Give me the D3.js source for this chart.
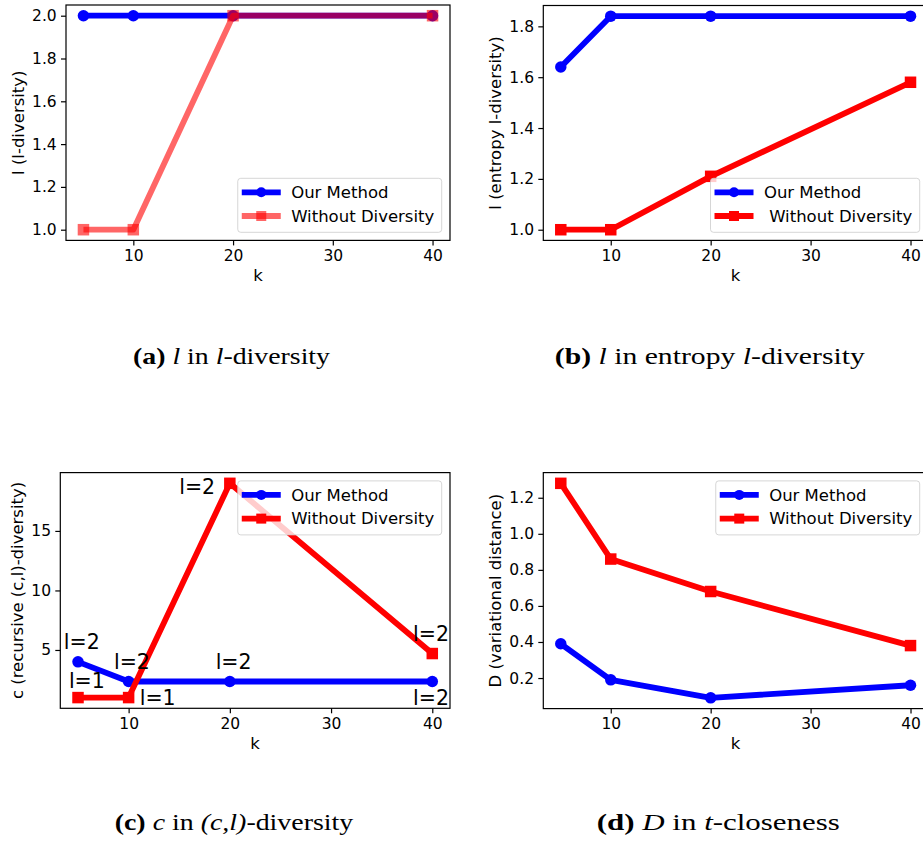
<!DOCTYPE html>
<html>
<head>
<meta charset="utf-8">
<script src="https://cdn.jsdelivr.net/npm/d3@7"></script>
<style>
  body { margin: 0; background: #fff; }
  svg { display: block; }
</style>
</head>
<body>
<div id="chart"></div>
<script>
// k values on the x axis (shared by all four panels)
const kValues = [5, 10, 20, 40];
const xTicks = [10, 20, 30, 40];
const seriesNames = ["Our Method", "Without Diversity"];

// (a) l in l-diversity
const ldivOurs = [2.0, 2.0, 2.0, 2.0];
const ldivWithout = [1.0, 1.0, 2.0, 2.0];
const ldivTicks = [1.0, 1.2, 1.4, 1.6, 1.8, 2.0];

// (b) l in entropy l-diversity
const entropyOurs = [1.64, 1.84, 1.84, 1.84];
const entropyWithout = [1.0, 1.0, 1.21, 1.58];
const entropyTicks = [1.0, 1.2, 1.4, 1.6, 1.8];

// (c) c in recursive (c,l)-diversity
const recursiveOurs = [4.0, 2.35, 2.35, 2.35];
const recursiveWithout = [1.0, 1.0, 19.0, 4.7];
const recursiveTicks = [5, 10, 15];
// text notes written in data coordinates (k, c)
const recursiveNotes = [
  { text: "l=2", k: 3.6, v: 5.1 },
  { text: "l=1", k: 4.1, v: 1.8 },
  { text: "l=2", k: 8.55, v: 3.4 },
  { text: "l=1", k: 11.1, v: 0.38 },
  { text: "l=2", k: 15.0, v: 18.1 },
  { text: "l=2", k: 18.6, v: 3.4 },
  { text: "l=2", k: 38.1, v: 5.76 },
  { text: "l=2", k: 38.1, v: 0.38 }
];

// (d) D in t-closeness
const closenessOurs = [0.39, 0.19, 0.09, 0.16];
const closenessWithout = [1.28, 0.86, 0.68, 0.38];
const closenessTicks = [0.2, 0.4, 0.6, 0.8, 1.0, 1.2];

const yLabels = ["l (l-diversity)", "l (entropy l-diversity)", "c (recursive (c,l)-diversity)", "D (variational distance)"];

// captions: [text, style] pieces
const captions = [
  [["(a)", "b"], [" ", "n"], ["l", "i"], [" in ", "n"], ["l", "i"], ["-diversity", "n"]],
  [["(b)", "b"], [" ", "n"], ["l", "i"], [" in entropy ", "n"], ["l", "i"], ["-diversity", "n"]],
  [["(c)", "b"], [" ", "n"], ["c", "i"], [" in ", "n"], ["(c,l)", "i"], ["-diversity", "n"]],
  [["(d)", "b"], [" ", "n"], ["D", "i"], [" in ", "n"], ["t", "i"], ["-closeness", "n"]]
];

const width = 923, height = 852;
const blue = "#0000ff", red = "#ff0000";
const lineW = 5.8, markerSize = 11.5;

const svg = d3.select("#chart").append("svg")
  .attr("width", width)
  .attr("height", height)
  .attr("viewBox", [0, 0, width, height]);

const panels = [
  { ours: ldivOurs, without: ldivWithout, ticks: ldivTicks, fmt: ".1f",
    box: { left: 66, top: 5, right: 450, bottom: 240.4 }, legend: "lower", fade: 0.6, lead: "",
    caption: { cx: 231.5, y: 364.3, w: 197 } },
  { ours: entropyOurs, without: entropyWithout, ticks: entropyTicks, fmt: ".1f",
    box: { left: 543.3, top: 5.5, right: 928, bottom: 240.4 }, legend: "lower", fade: 1, lead: " ",
    caption: { cx: 709.8, y: 364.3, w: 310 } },
  { ours: recursiveOurs, without: recursiveWithout, ticks: recursiveTicks, fmt: "d",
    box: { left: 60.3, top: 472.6, right: 450, bottom: 708.3 }, legend: "upper", fade: 1, lead: "",
    notes: recursiveNotes, caption: { cx: 234, y: 830, w: 238.7 } },
  { ours: closenessOurs, without: closenessWithout, ticks: closenessTicks, fmt: ".1f",
    box: { left: 543.3, top: 472.6, right: 928, bottom: 708.6 }, legend: "upper", fade: 1, lead: "",
    caption: { cx: 718.3, y: 830, w: 243.3 } }
];

panels.forEach((p, i) => drawPanel(p, i));

function drawPanel(p, i) {
  const b = p.box;
  const g = svg.append("g");

  // matplotlib style 5% margins
  const kExt = d3.extent(kValues);
  const kPad = (kExt[1] - kExt[0]) * 0.05;
  const x = d3.scaleLinear().domain([kExt[0] - kPad, kExt[1] + kPad]).range([b.left, b.right]);
  const vExt = d3.extent(p.ours.concat(p.without));
  const vPad = (vExt[1] - vExt[0]) * 0.05;
  const y = d3.scaleLinear().domain([vExt[0] - vPad, vExt[1] + vPad]).range([b.bottom, b.top]);

  const xAxis = d3.axisBottom(x).tickValues(xTicks).tickSize(5).tickPadding(4.6).tickSizeOuter(0);
  const yAxis = d3.axisLeft(y).tickValues(p.ticks).tickFormat(d3.format(p.fmt)).tickSize(5).tickPadding(4.3).tickSizeOuter(0);

  const gx = g.append("g").attr("transform", "translate(0," + b.bottom + ")").call(xAxis);
  const gy = g.append("g").attr("transform", "translate(" + b.left + ",0)").call(yAxis);
  [gx, gy].forEach(a => {
    a.select(".domain").remove();
    a.selectAll("line").attr("stroke", "#000").attr("stroke-width", 1.2);
    a.selectAll("text").attr("fill", "#000")
      .style("font-family", "'DejaVu Sans', sans-serif").style("font-size", "15.5px");
  });

  // frame
  g.append("rect")
    .attr("x", b.left).attr("y", b.top)
    .attr("width", b.right - b.left).attr("height", b.bottom - b.top)
    .attr("fill", "none").attr("stroke", "#000").attr("stroke-width", 1.2);

  // axis labels
  const tickLeft = gy.node().getBBox().x + b.left;
  g.append("text")
    .attr("transform", "translate(" + (tickLeft - 8.3) + "," + ((b.top + b.bottom) / 2) + ") rotate(-90)")
    .attr("text-anchor", "middle")
    .style("font-family", "'DejaVu Sans', sans-serif").style("font-size", "16.5px")
    .text(yLabels[i]);
  g.append("text")
    .attr("x", (b.left + b.right) / 2).attr("y", b.bottom + 40.8)
    .attr("text-anchor", "middle")
    .style("font-family", "'DejaVu Sans', sans-serif").style("font-size", "16.5px")
    .text("k");

  // series
  const line = d3.line().x(d => x(d[0])).y(d => y(d[1]));
  const ours = kValues.map((k, j) => [k, p.ours[j]]);
  const without = kValues.map((k, j) => [k, p.without[j]]);

  g.append("path").datum(ours)
    .attr("d", line).attr("fill", "none").attr("stroke", blue)
    .attr("stroke-width", lineW).attr("stroke-linejoin", "round");
  g.selectAll(".dot").data(ours).join("circle")
    .attr("cx", d => x(d[0])).attr("cy", d => y(d[1]))
    .attr("r", markerSize / 2).attr("fill", blue);

  g.append("path").datum(without)
    .attr("d", line).attr("fill", "none").attr("stroke", red).attr("stroke-opacity", p.fade)
    .attr("stroke-width", lineW).attr("stroke-linejoin", "round");
  g.selectAll(".sq").data(without).join("rect")
    .attr("x", d => x(d[0]) - markerSize / 2).attr("y", d => y(d[1]) - markerSize / 2)
    .attr("width", markerSize).attr("height", markerSize)
    .attr("fill", red).attr("fill-opacity", p.fade);

  // notes on panel (c)
  if (p.notes) {
    g.selectAll(".note").data(p.notes).join("text")
      .attr("x", d => x(d.k)).attr("y", d => y(d.v))
      .style("font-family", "'DejaVu Sans', sans-serif").style("font-size", "20.5px")
      .text(d => d.text);
  }

  // legend
  const lg = g.append("g");
  const labels = lg.selectAll(".lab").data(seriesNames).join("text")
    .attr("x", 53.4).attr("y", (d, j) => 14 + j * 23.7).attr("dy", "0.35em")
    .style("font-family", "'DejaVu Sans', sans-serif").style("font-size", "16.5px")
    .style("white-space", "pre")
    .text((d, j) => (j == 1 ? p.lead : "") + d);
  const textW = d3.max(labels.nodes(), n => n.getComputedTextLength());
  const lw = 53.4 + textW + 7.4, lh = 54;
  lg.insert("rect", "text")
    .attr("width", lw).attr("height", lh).attr("rx", 3)
    .attr("fill", "#fff").attr("fill-opacity", 0.8)
    .attr("stroke", "#cccccc").attr("stroke-opacity", 0.8).attr("stroke-width", 1);
  [blue, red].forEach((c, j) => {
    const cy = 14 + j * 23.7;
    const op = j == 1 ? p.fade : 1;
    lg.append("line").attr("x1", 4).attr("x2", 43).attr("y1", cy).attr("y2", cy)
      .attr("stroke", c).attr("stroke-opacity", op).attr("stroke-width", lineW);
    if (j == 0) {
      lg.append("circle").attr("cx", 23.5).attr("cy", cy).attr("r", 5).attr("fill", c);
    } else {
      lg.append("rect").attr("x", 18.5).attr("y", cy - 5).attr("width", 10).attr("height", 10)
        .attr("fill", c).attr("fill-opacity", op);
    }
  });
  lg.selectAll("text").raise();
  const lx = b.right - 8.3 - lw;
  const ly = p.legend == "lower" ? b.bottom - 8.1 - lh : b.top + 8.3;
  lg.attr("transform", "translate(" + lx + "," + ly + ")");

  // caption
  const cap = svg.append("text")
    .attr("text-anchor", "middle")
    .style("font-family", "'Liberation Serif', serif").style("font-size", "23px");
  captions[i].forEach(s => {
    cap.append("tspan")
      .style("font-weight", s[1] == "b" ? "bold" : "normal")
      .style("font-style", s[1] == "i" ? "italic" : "normal")
      .style("white-space", "pre")
      .text(s[0]);
  });
  const cw = cap.node().getComputedTextLength();
  cap.attr("transform", "translate(" + p.caption.cx + "," + p.caption.y + ") scale(" + (p.caption.w / cw) + ",1)");
}
</script>
</body>
</html>
